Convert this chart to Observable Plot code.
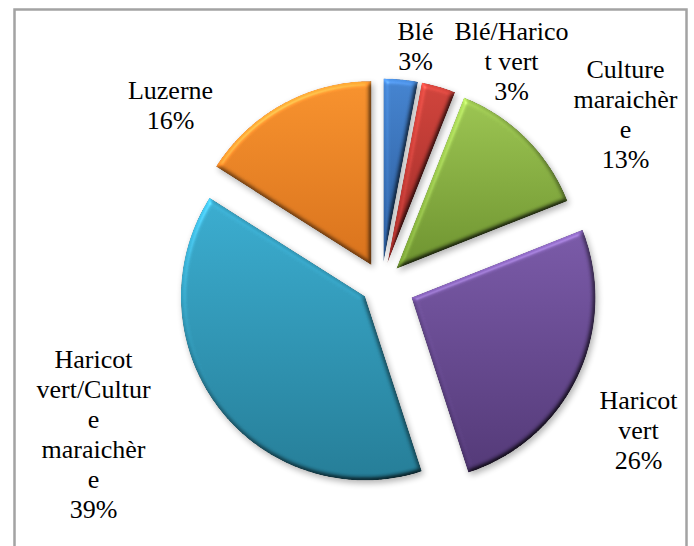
<!DOCTYPE html>
<html>
<head>
<meta charset="utf-8">
<script src="https://cdn.jsdelivr.net/npm/d3@7"></script>
<script src="https://cdn.jsdelivr.net/npm/@observablehq/plot@0.6"></script>
<style>
  html, body { margin: 0; padding: 0; background: #fff; }
  #chart svg { display: block; }
</style>
</head>
<body>
<div id="chart"></div>
<script>
// ---- data ----
const categories = ["Blé", "Blé/Haricot vert", "Culture maraichère", "Haricot vert", "Haricot vert/Culture maraichère", "Luzerne"];
const values = [3, 3, 13, 26, 39, 16];
// category names as wrapped in the picture
const labelNames = ["Blé", "Blé/Harico\nt vert", "Culture\nmaraichèr\ne", "Haricot\nvert", "Haricot\nvert/Cultur\ne\nmaraichèr\ne", "Luzerne"];

// ---- styles / layout ----
const colorTop = ["#4584d0", "#d0443c", "#9cc552", "#7a5aa8", "#3badd0", "#f7922e"];
const colorBottom = ["#2b5a98", "#9e2a27", "#6d922f", "#533977", "#257d97", "#d8721c"];
const explode = [0.114, 0.114, 0.114, 0.18, 0.114, 0.114]; // in radius units
const cx = 381, cy = 283, R = 184;
// label block centres, pixels
const labelPx = [[415, 45], [511, 60], [625, 113], [638, 429], [93, 433], [170, 104]];

// ---- build slice polygons ----
const arcs = d3.pie().sort(null).value(d => d)(values);
const pts = [];
arcs.forEach((a, i) => {
  const mid = (a.startAngle + a.endAngle) / 2;
  const ox = explode[i] * Math.sin(mid), oy = -explode[i] * Math.cos(mid);
  pts.push({slice: i, x: ox, y: oy});
  const n = Math.max(4, Math.ceil((a.endAngle - a.startAngle) / (Math.PI / 360)));
  for (let k = 0; k <= n; k++) {
    const t = a.startAngle + (a.endAngle - a.startAngle) * k / n;
    pts.push({slice: i, x: ox + Math.sin(t), y: oy - Math.cos(t)});
  }
});

const labels = categories.map((c, i) => ({
  text: labelNames[i] + "\n" + values[i] + "%",
  x: (labelPx[i][0] - cx) / R,
  y: (labelPx[i][1] - cy) / R
}));

const plot = Plot.plot({
  width: 694,
  height: 546,
  marginTop: 9,
  marginLeft: 14,
  marginRight: 8,
  marginBottom: 0,
  x: {domain: [-1, 1], range: [cx - R, cx + R], axis: null},
  y: {domain: [-1, 1], range: [cy - R, cy + R], axis: null},
  color: {type: "identity"},
  marks: [
    Plot.frame({stroke: "#a3a3a3", strokeWidth: 2.5, insetBottom: -8}),
    Plot.line(pts, {x: "x", y: "y", z: "slice", fill: d => `url(#g${d.slice})`, stroke: "none", curve: "linear-closed"}),
    Plot.text(labels, {x: "x", y: "y", text: "text", fontSize: 26, fontFamily: "Liberation Serif", lineHeight: 1.15, fill: "#000", textAnchor: "middle"})
  ]
});

// gradients and bevel filter
const ns = "http://www.w3.org/2000/svg";
const defs = document.createElementNS(ns, "defs");
let html = "";
colorTop.forEach((c, i) => {
  html += `<linearGradient id="g${i}" x1="0" y1="0" x2="0" y2="1"><stop offset="0" stop-color="${c}"/><stop offset="1" stop-color="${colorBottom[i]}"/></linearGradient>`;
});
html += `<filter id="bevel" x="-20%" y="-20%" width="140%" height="140%" color-interpolation-filters="sRGB">
  <feGaussianBlur in="SourceAlpha" stdDeviation="2.5" result="blur"/>
  <feDiffuseLighting in="blur" surfaceScale="3" diffuseConstant="1" lighting-color="#ffffff" result="diff"><feDistantLight azimuth="235" elevation="55"/></feDiffuseLighting>
  <feComposite in="SourceGraphic" in2="diff" operator="arithmetic" k1="1.22" k2="0" k3="0" k4="0" result="lit"/>
  <feSpecularLighting in="blur" surfaceScale="3" specularConstant="0.3" specularExponent="40" lighting-color="#ffffff" result="spec"><feDistantLight azimuth="235" elevation="45"/></feSpecularLighting>
  <feComposite in="spec" in2="SourceAlpha" operator="in" result="specIn"/>
  <feComposite in="lit" in2="specIn" operator="arithmetic" k1="0" k2="1" k3="0.4" k4="0" result="lit2"/>
  <feComposite in="lit2" in2="SourceAlpha" operator="in" result="final"/>
  <feGaussianBlur in="SourceAlpha" stdDeviation="3" result="sb"/>
  <feOffset in="sb" dx="2" dy="3" result="so"/>
  <feComponentTransfer in="so" result="shadow"><feFuncA type="linear" slope="0.3"/></feComponentTransfer>
  <feMerge><feMergeNode in="shadow"/><feMergeNode in="final"/></feMerge>
</filter>`;
defs.innerHTML = html;
plot.insertBefore(defs, plot.firstChild);
plot.querySelectorAll('g[aria-label="line"] path').forEach(p => p.setAttribute("filter", "url(#bevel)"));

document.getElementById("chart").appendChild(plot);
</script>
</body>
</html>
